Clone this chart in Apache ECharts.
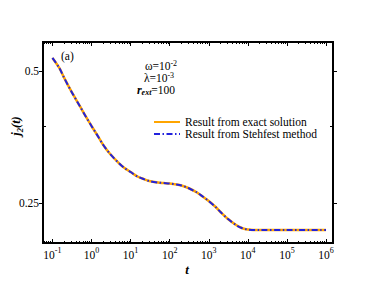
<!DOCTYPE html>
<html>
<head>
<meta charset="utf-8">
<script src="https://cdn.jsdelivr.net/npm/echarts@6/dist/echarts.min.js"></script>
<style>html,body{margin:0;padding:0;background:#fff}#c{width:374px;height:289px}</style>
</head>
<body>
<div id="c"></div>
<script>
// ---- data ----
const tValues = [0.1, 0.15, 0.2, 0.3, 0.5, 0.7, 1, 1.5, 2, 3, 5, 7, 10, 15, 20, 30, 50, 70, 100, 150, 200, 300, 500, 700, 1000, 1500, 2000, 3000, 5000, 7000, 1e4, 2e4, 1e5, 1e6];
const exactSolution = [0.5354, 0.508, 0.4820, 0.4502, 0.4161, 0.3948, 0.3746, 0.3536, 0.3390, 0.3233, 0.3084, 0.3004, 0.2942, 0.2873, 0.2843, 0.2806, 0.2784, 0.2777, 0.2770, 0.2756, 0.2741, 0.2705, 0.2642, 0.2587, 0.2526, 0.2448, 0.2385, 0.2305, 0.2227, 0.2193, 0.2175, 0.2169, 0.2169, 0.2169];
const stehfestMethod = [0.5354, 0.508, 0.4820, 0.4502, 0.4161, 0.3948, 0.3746, 0.3536, 0.3390, 0.3233, 0.3084, 0.3004, 0.2942, 0.2873, 0.2843, 0.2806, 0.2784, 0.2777, 0.2770, 0.2756, 0.2741, 0.2705, 0.2642, 0.2587, 0.2526, 0.2448, 0.2385, 0.2305, 0.2227, 0.2193, 0.2175, 0.2169, 0.2169, 0.2169];
const seriesNames = ['Result from exact solution', 'Result from Stehfest method'];
const xMajorExponents = [-1, 0, 1, 2, 3, 4, 5, 6];
const xRange = [0.0574, 1.51e6];
const yMajorTicks = [0.25, 0.5];
const yMinorTicks = [0.375];
const yRange = [0.2027, 0.582];

// ---- build ----
const L = Math.log10;
const xMinorTicks = [];
for (let e = -2; e <= 6; e++) for (let k = 2; k <= 9; k++) {
  const v = k * Math.pow(10, e);
  if (v > xRange[0] && v < xRange[1]) xMinorTicks.push(L(v));
}
const xMajor = xMajorExponents.slice();
const FONT = 'Liberation Serif';
const axisLineStyle = { color: '#000', width: 2 };

function xAxisDef(pos, ticks, len, labels) {
  return {
    type: 'value', position: pos, min: L(xRange[0]), max: L(xRange[1]),
    axisLine: { show: true, onZero: false, lineStyle: axisLineStyle },
    axisTick: { show: true, inside: true, length: len, customValues: ticks, lineStyle: { color: '#000', width: 1 } },
    axisLabel: labels ? {
      show: true, margin: 3, customValues: ticks,
      formatter: v => '{b|10}{s|' + Math.round(v) + '}',
      rich: {
        b: { fontFamily: FONT, fontSize: 11.5, lineHeight: 18, color: '#000' },
        s: { fontFamily: FONT, fontSize: 8, lineHeight: 8, verticalAlign: 'top', color: '#000' }
      }
    } : { show: false },
    splitLine: { show: false }
  };
}
function yAxisDef(pos, ticks, len, inside, labels) {
  return {
    type: 'value', position: pos, min: L(yRange[0]), max: L(yRange[1]),
    axisLine: { show: true, onZero: false, lineStyle: axisLineStyle },
    axisTick: { show: true, inside: inside, length: len, customValues: ticks, lineStyle: { color: '#000', width: 1 } },
    axisLabel: labels ? {
      show: true, margin: 4, customValues: ticks,
      formatter: v => String(Number(Math.pow(10, v).toFixed(3))),
      fontFamily: FONT, fontSize: 11.5, color: '#000'
    } : { show: false },
    splitLine: { show: false }
  };
}

const supRich = {
  n: { fontFamily: FONT, fontSize: 11.5, lineHeight: 11, fill: '#000' },
  s: { fontFamily: FONT, fontSize: 8, lineHeight: 4, verticalAlign: 'bottom', padding: [0, 0, 3.5, 0], fill: '#000' }
};

const chart = echarts.init(document.getElementById('c'), null, { renderer: 'svg' });
chart.setOption({
  animation: false,
  backgroundColor: '#fff',
  grid: { left: 43, right: 41, top: 42, bottom: 46, containLabel: false },
  xAxis: [
    xAxisDef('bottom', xMajor.map(Number), 4, true),
    xAxisDef('bottom', xMinorTicks, 2, false),
    xAxisDef('top', xMajor.map(Number), 4, false),
    xAxisDef('top', xMinorTicks, 2, false)
  ],
  yAxis: [
    yAxisDef('left', yMajorTicks.map(L), 4, false, true),
    yAxisDef('left', yMinorTicks.map(L), 3, true, false),
    yAxisDef('right', yMajorTicks.map(L), 4, false, false),
    yAxisDef('right', yMinorTicks.map(L), 3, true, false)
  ],
  legend: {
    orient: 'vertical', left: 148, top: 111, itemWidth: 26, itemHeight: 12, itemGap: 0,
    itemStyle: { opacity: 0 },
    textStyle: { fontFamily: FONT, fontSize: 11.5, color: '#000', lineHeight: 12 },
    data: seriesNames
  },
  series: [
    {
      name: seriesNames[0], type: 'line', xAxisIndex: 0, yAxisIndex: 0, smooth: 0.3,
      symbol: 'none', showSymbol: false,
      lineStyle: { color: '#FFA500', width: 2.5 }, itemStyle: { color: '#FFA500' },
      data: tValues.map((t, i) => [L(t), L(exactSolution[i])])
    },
    {
      name: seriesNames[1], type: 'line', xAxisIndex: 0, yAxisIndex: 0, smooth: 0.3,
      symbol: 'none', showSymbol: false,
      lineStyle: { color: '#2222DD', width: 2, type: [6, 2.5, 1.5, 2.5] }, itemStyle: { color: '#2222DD' },
      data: tValues.map((t, i) => [L(t), L(stehfestMethod[i])])
    }
  ],
  graphic: [
    { type: 'text', left: 61, top: 50, style: { text: '(a)', fontFamily: FONT, fontSize: 11.5, fill: '#000' } },
    { type: 'text', x: 161, y: 65.5, style: { text: '{n|ω=10}{s|-2}', align: 'center', verticalAlign: 'middle', rich: supRich } },
    { type: 'text', x: 159, y: 77.5, style: { text: '{n|λ=10}{s|-3}', align: 'center', verticalAlign: 'middle', rich: supRich } },
    { type: 'text', x: 156, y: 89.5, style: { text: '{r|r}{sub|ext}{n|=100}', align: 'center', verticalAlign: 'middle',
      rich: { r: { fontFamily: FONT, fontSize: 12, fontWeight: 'bold', fontStyle: 'italic', lineHeight: 11, fill: '#000' },
              sub: { fontFamily: FONT, fontSize: 8, fontWeight: 'bold', fontStyle: 'italic', lineHeight: 4, verticalAlign: 'top', padding: [4, 0, 0, 0], fill: '#000' },
              n: { fontFamily: FONT, fontSize: 11.5, lineHeight: 11, fill: '#000' } } } },
    { type: 'text', x: 16, y: 126, rotation: Math.PI / 2, style: { text: '{j|j}{s|2}{j|(t)}', align: 'center', verticalAlign: 'middle',
      rich: { j: { fontFamily: FONT, fontSize: 12.5, fontWeight: 'bold', fontStyle: 'italic', lineHeight: 16, fill: '#000' },
              s: { fontFamily: FONT, fontSize: 8.5, fontWeight: 'bold', fontStyle: 'italic', lineHeight: 8, verticalAlign: 'bottom', fill: '#000' } } } },
    { type: 'text', x: 187, y: 269, style: { text: 't', align: 'center', verticalAlign: 'middle', fontFamily: FONT, fontSize: 13, fontWeight: 'bold', fontStyle: 'italic', fill: '#000' } }
  ]
});
</script>
</body>
</html>
